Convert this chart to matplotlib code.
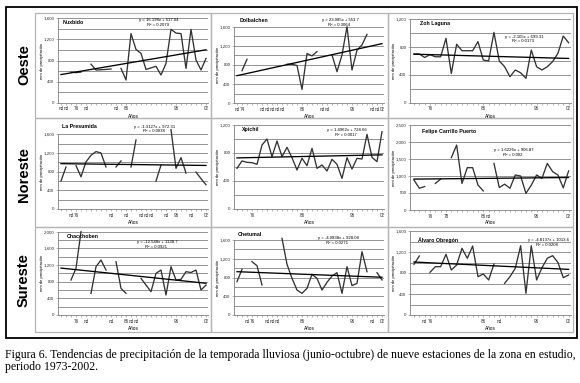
import matplotlib
matplotlib.use("Agg")
import matplotlib.pyplot as plt
from matplotlib.patches import Rectangle
import numpy as np

N = None
years = list(range(1973, 2003))

# ---- data (mm, rainy season Jun-Oct), None = no data ----
nuxbido = [N, N, 580, 570, 580, N, 730, 620, 625, 630, 640, N, 650, 430, 1310,
           1010, 935, 630, 660, 690, 525, 745, 1390, 1320, 1310, 650, 1390, 810, 620, 840]
dolbalchen = [N, 680, 920, N, N, N, N, N, N, N, 815, 815, 790, 290, 1040,
              990, 1080, N, N, 1010, 660, 1010, 1600, 695, 1110, 1220, 1440, N, N, N]
zoh_laguna = [700, 700, 650, 690, 660, 660, 925, 420, 840, 747, 747, 747, 877, 613, 600,
              1010, 600, 517, 374, 470, 430, 350, 757, 517, 470, 517, 590, 710, 958, 862]
la_presumida = [600, 900, N, 930, 690, 1010, 1150, 1230, 1200, 900, N, 900, 1030, N, 900,
                1480, N, N, N, 600, 940, N, 1700, 870, 1100, 770, N, 790, 650, 520]
xpichil = [581, 686, 667, 662, 638, 914, 1000, 748, 971, 748, 881, 733, 557, 724, 619,
           867, 581, 629, 543, 710, 638, 438, 733, 571, 724, 714, 1067, 738, 676, 1105]
felipe_carrillo = [880, 640, 690, N, 780, 910, N, 1540, 1910, 780, 1245, 1245, 735, 560, N,
                   1370, 660, 760, 640, 1030, 1000, 490, 730, 1030, 930, 1370, 1130, 1030, 650, 1150]
chacchoben = [N, N, 840, 1120, 2000, N, 520, 1160, 1320, 1080, N, 1280, 640, 520, N,
              N, 880, 720, 560, 1000, 1080, 480, 1160, 840, 856, 1040, 1020, 1080, 600, 720]
chetumal = [711, 974, N, 1138, 1052, 640, N, N, N, 1636, 1081, 782, 533, 462, 569,
            868, 782, 533, 697, 832, 903, 462, 1031, 626, 676, 1351, 924, N, 903, 747]
alvaro_obregon = [965, 1124, N, 813, 920, 920, 1156, 857, 952, 1270, 1080, 1314, 730, 781, 667,
                  971, N, 603, 730, 889, 1320, 413, 1320, 667, 900, 1080, 1130, 1000, 711, 762]

station_names = ["Nuxbido", "Dolbalchen", "Zoh Laguna",
                 "La Presumida", "Xpichil", "Felipe Carrillo Puerto",
                 "Chacchoben", "Chetumal", "Álvaro Obregón"]
trend_slopes = [16.198, 23.085, -2.105, -1.3127, 1.4962, 1.6226, -12.548, -4.0838, -4.8137]
trend_intercepts = [517.04, 553.7, 699.31, 972.31, 728.66, 906.87, 1138.7, 928.08, 1013.6]
r2_values = ["0.2079", "0.3064", "0.0173", "0.0038", "0.0017", "0.002", "0.0921", "0.0271", "0.0208"]
region_labels = ["Oeste", "Noreste", "Sureste"]
y_max = [1600, 1600, 1200, 1600, 1200, 2500, 2000, 1600, 1600]
y_label_step = [400, 400, 400, 400, 400, 500, 400, 400, 400]
y_grid_step = [200, 200, 200, 200, 200, 500, 200, 200, 200]

nux_tick_years = [1973, 1974, 1976, 1978, 1984, 1986, 1996, 2002]
nux_tick_labels = ["nd", "nd", "76", "nd", "nd", "86", "96", "02"]
dol_tick_years = [1973, 1974, 1978, 1979, 1980, 1981, 1982, 1986, 1990, 1991, 1996, 2000, 2001, 2002]
dol_tick_labels = ["nd", "74", "nd", "nd", "nd", "nd", "nd", "86", "nd", "nd", "96", "nd", "nd", "02"]
zoh_tick_years = [1976, 1986, 1996, 2002]
zoh_tick_labels = ["76", "86", "96", "02"]
pre_tick_years = [1975, 1976, 1983, 1986, 1989, 1990, 1991, 1994, 1996, 1999, 2002]
pre_tick_labels = ["nd", "76", "nd", "nd", "nd", "nd", "nd", "nd", "96", "nd", "02"]
xpi_tick_years = [1976, 1986, 1996, 2002]
xpi_tick_labels = ["76", "86", "96", "02"]
fcp_tick_years = [1976, 1979, 1986, 1987, 1996, 2002]
fcp_tick_labels = ["76", "78", "86", "nd", "96", "02"]
cha_tick_years = [1976, 1978, 1983, 1986, 1987, 1988, 1996, 2002]
cha_tick_labels = ["76", "nd", "nd", "86", "nd", "nd", "96", "02"]
che_tick_years = [1975, 1976, 1979, 1980, 1981, 1986, 1996, 2000, 2002]
che_tick_labels = ["nd", "76", "nd", "nd", "nd", "86", "96", "nd", "02"]
ao_tick_years = [1975, 1976, 1986, 1989, 1996, 2002]
ao_tick_labels = ["nd", "76", "86", "nd", "96", "02"]

series = [nuxbido, dolbalchen, zoh_laguna, la_presumida, xpichil, felipe_carrillo,
          chacchoben, chetumal, alvaro_obregon]
tick_years = [nux_tick_years, dol_tick_years, zoh_tick_years, pre_tick_years, xpi_tick_years,
              fcp_tick_years, cha_tick_years, che_tick_years, ao_tick_years]
tick_labels = [nux_tick_labels, dol_tick_labels, zoh_tick_labels, pre_tick_labels, xpi_tick_labels,
               fcp_tick_labels, cha_tick_labels, che_tick_labels, ao_tick_labels]

# ---- layout (pixels) ----
W, H = 580, 383
fig = plt.figure(figsize=(W / 100, H / 100), dpi=100)
SANS = "Liberation Sans"

def fx(x):
    return x / W

def fy(y):
    return 1 - y / H

# outer frame
fig.add_artist(Rectangle((fx(6), fy(338)), (577 - 6) / W, (338 - 6.5) / H,
                         transform=fig.transFigure, fill=False, ec="black", lw=1.3))

col_bounds = [(35, 211), (211, 388), (388, 573)]
row_bounds = [(13, 118), (118, 227), (227, 332)]
col_plot = [(58, 208, 1972.4, 2002.4), (234, 384, 1972.4, 2002.4), (410, 571, 1972.25, 2002.45)]
plot_y = [(18.3, 102.7), (26.7, 103.3), (19.2, 102.7),
          (134.3, 209), (125, 209), (125, 210),
          (231.7, 315), (240, 315), (231, 315)]
title_pos = [(63, 23), (240, 20), (420, 24),
             (62, 127), (242, 130), (422, 131),
             (67, 236), (238, 234), (418, 240)]
eq_pos = [(159, 20), (340, 20), (524, 37),
          (155, 127), (347, 130), (514, 150),
          (157, 242), (338, 238), (548, 240)]
anos_y = [116, 222, 328]
region_y = [65, 175, 280]

for r in range(3):
    for c in range(3):
        x0, x1 = col_bounds[c]
        y0, y1 = row_bounds[r]
        fig.add_artist(Rectangle((fx(x0), fy(y1)), (x1 - x0) / W, (y1 - y0) / H,
                                 transform=fig.transFigure, fill=False, ec="#b5b5b5", lw=0.9))

for r in range(3):
    fig.text(fx(24), fy(region_y[r]), region_labels[r], rotation=90, ha="center", va="center",
             fontsize=10.5, fontweight="bold", family=SANS)

for i in range(9):
    r, c = divmod(i, 3)
    px0, px1, xl0, xl1 = col_plot[c]
    yt, yb = plot_y[i]
    ax = fig.add_axes([fx(px0), fy(yb), (px1 - px0) / W, (yb - yt) / H])
    ax.set_xlim(xl0, xl1)
    ax.set_ylim(0, y_max[i])
    ax.patch.set_alpha(0)
    for s in ["top", "right"]:
        ax.spines[s].set_visible(False)
    for s in ["left", "bottom"]:
        ax.spines[s].set_color("#808080")
        ax.spines[s].set_linewidth(0.6)
    for g in range(y_grid_step[i], y_max[i] + 1, y_grid_step[i]):
        ax.axhline(g, color="#8c8c8c", lw=0.65, zorder=1)
    vals = np.array([np.nan if v is None else v for v in series[i]], dtype=float)
    ax.plot(years, vals, color="#333333", lw=0.95, zorder=3, clip_on=False)
    idx = np.arange(1, len(years) + 1)
    ax.plot(years, trend_slopes[i] * idx + trend_intercepts[i], color="black", lw=0.95, zorder=4)
    yt_vals = list(range(0, y_max[i] + 1, y_label_step[i]))
    ax.set_yticks(yt_vals)
    ax.set_yticklabels([f"{v:,}" for v in yt_vals], fontsize=3.2, family=SANS, color="#333333")
    ax.set_xticks(years)
    lab = {y: l for y, l in zip(tick_years[i], tick_labels[i])}
    ax.set_xticklabels([lab.get(y, "") for y in years], fontsize=3.3, family=SANS, color="#333333")
    ax.tick_params(axis="both", length=1.3, width=0.4, color="#808080", pad=1.2)
    ax.tick_params(axis="x", pad=1.3)
    tx, ty = title_pos[i]
    fig.text(fx(tx), fy(ty), station_names[i], fontsize=3.8, fontweight="bold", family=SANS,
             ha="left", va="center")
    ex, ey = eq_pos[i]
    sgn = "-" if trend_slopes[i] < 0 else ""
    eq = f"y = {sgn}{abs(trend_slopes[i])}x + {trend_intercepts[i]}"
    fig.text(fx(ex), fy(ey), eq, fontsize=3.1, family=SANS, ha="center", va="center")
    fig.text(fx(ex - 1), fy(ey + 4.5), f"R² = {r2_values[i]}", fontsize=3.1, family=SANS,
             ha="center", va="center")
    fig.text(fx((px0 + px1) / 2), fy(anos_y[r]), "Años", fontsize=3.4, family=SANS,
             ha="center", va="center")
    fig.text(fx(px0 - 16), fy((yt + yb) / 2), "mm de precipitación", rotation=90, fontsize=3.0,
             family=SANS, ha="center", va="center")

# caption
cap1 = ("Figura 6. Tendencias de precipitación de la temporada lluviosa (junio-octubre) "
        "de nueve estaciones de la zona en estudio,")
cap2 = "periodo 1973-2002."
t1 = fig.text(fx(5), fy(355), cap1, fontsize=8, family="Liberation Serif", ha="left", va="center")
fig.canvas.draw()
wpx = t1.get_window_extent().width
fs = 8 * (570 / wpx)
t1.set_fontsize(fs)
fig.text(fx(5), fy(367), cap2, fontsize=fs, family="Liberation Serif", ha="left", va="center")

fig.savefig("out.png", dpi=100)
